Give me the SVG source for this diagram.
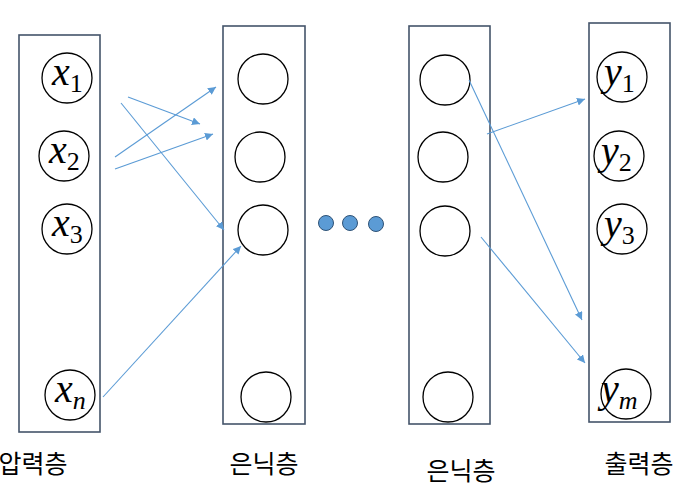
<svg xmlns="http://www.w3.org/2000/svg" width="681" height="488" viewBox="0 0 681 488">
<defs>
<marker id="ah" viewBox="0 0 10 10" refX="10" refY="5" markerWidth="8" markerHeight="8" markerUnits="userSpaceOnUse" orient="auto">
<path d="M0,0 L10,5 L0,10 z" fill="#5B9BD5"/>
</marker>
<style>
.box{fill:none;stroke:#44546A;stroke-width:1.6}
.n{fill:none;stroke:#000;stroke-width:1.3}
.c{fill:none;stroke:#5B9BD5;stroke-width:1.1;marker-end:url(#ah)}
.v{font-family:"Liberation Serif",serif;font-style:italic;font-size:40px;fill:#000}
.s{font-family:"Liberation Serif",serif;font-style:normal;font-size:26px}
.lbl{font-family:"Noto Sans CJK KR","Noto Sans",sans-serif;font-size:25px;fill:#000;text-anchor:middle}
.dot{fill:#5B9BD5;stroke:#2E5276;stroke-width:1}
</style>
</defs>
<rect width="681" height="488" fill="#fff"/>
<g id="input-layer">
<rect class="box" x="19" y="35" width="81" height="397"/>
<g id="x1"><circle class="n" cx="67" cy="78" r="25"/><text class="v" x="52" y="85">x<tspan class="s" dy="7">1</tspan></text></g>
<g id="x2"><circle class="n" cx="64" cy="156" r="25"/><text class="v" x="49" y="163">x<tspan class="s" dy="7">2</tspan></text></g>
<g id="x3"><circle class="n" cx="67" cy="229" r="25"/><text class="v" x="52" y="236">x<tspan class="s" dy="7">3</tspan></text></g>
<g id="xn"><circle class="n" cx="70" cy="395" r="25"/><text class="v" x="55" y="402">x<tspan class="s" dy="7" style="font-style:italic">n</tspan></text></g>
<text class="lbl" x="33" y="473">압력층</text>
</g>
<g id="hidden-layer-1">
<rect class="box" x="223" y="26" width="82" height="398"/>
<circle class="n" cx="263" cy="79" r="25"/>
<circle class="n" cx="260" cy="157" r="25"/>
<circle class="n" cx="263" cy="230" r="25"/>
<circle class="n" cx="266" cy="397" r="25"/>
<text class="lbl" x="264" y="473">은닉층</text>
</g>
<g id="ellipsis">
<circle class="dot" cx="326" cy="223" r="7.5"/>
<circle class="dot" cx="350" cy="223" r="7.5"/>
<circle class="dot" cx="376" cy="224" r="7.5"/>
</g>
<g id="hidden-layer-2">
<rect class="box" x="409" y="26" width="81" height="398"/>
<circle class="n" cx="445" cy="80" r="25"/>
<circle class="n" cx="443" cy="157" r="25"/>
<circle class="n" cx="445" cy="231" r="25"/>
<circle class="n" cx="448" cy="397" r="25"/>
<text class="lbl" x="461" y="480">은닉층</text>
</g>
<g id="output-layer">
<rect class="box" x="589" y="23" width="81" height="399"/>
<g id="y1"><circle class="n" cx="622" cy="77" r="25"/><text class="v" x="604" y="85">y<tspan class="s" dy="7">1</tspan></text></g>
<g id="y2"><circle class="n" cx="619" cy="156" r="25"/><text class="v" x="601" y="164">y<tspan class="s" dy="7">2</tspan></text></g>
<g id="y3"><circle class="n" cx="622" cy="229" r="25"/><text class="v" x="604" y="237">y<tspan class="s" dy="7">3</tspan></text></g>
<g id="ym"><circle class="n" cx="626" cy="394" r="25"/><text class="v" x="601" y="402">y<tspan class="s" dy="7" style="font-style:italic">m</tspan></text></g>
<text class="lbl" x="639" y="473">출력층</text>
</g>
<g id="connectors">
<line class="c" x1="128" y1="97" x2="200" y2="124"/>
<line class="c" x1="121" y1="103" x2="224" y2="230"/>
<line class="c" x1="115" y1="157" x2="216" y2="87"/>
<line class="c" x1="115" y1="169" x2="213" y2="134"/>
<line class="c" x1="103" y1="397" x2="241" y2="246"/>
<line class="c" x1="487" y1="134" x2="585" y2="99"/>
<line class="c" x1="469" y1="80" x2="582" y2="320"/>
<line class="c" x1="481" y1="237" x2="585" y2="363"/>
</g>
</svg>
